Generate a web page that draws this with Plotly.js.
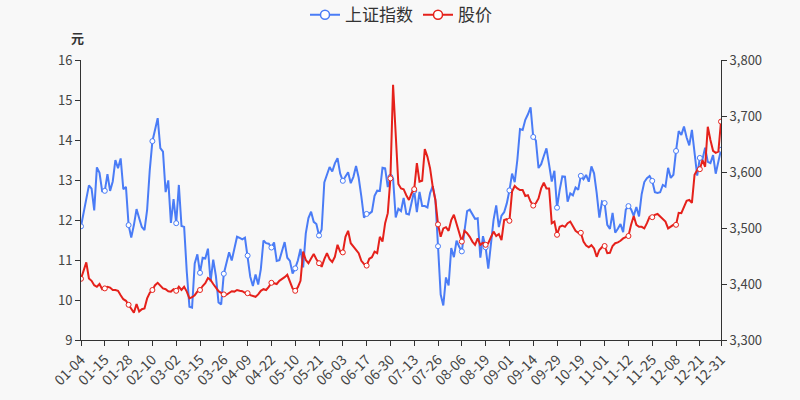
<!DOCTYPE html>
<html>
<head>
<meta charset="utf-8">
<script src="https://cdn.plot.ly/plotly-3.0.1.min.js"></script>
<style>html,body{margin:0;padding:0;background:#f8f8f8;}#chart{width:800px;height:400px;}</style>
</head>
<body>
<div id="chart"></div>
<script>
const dates = [
"01-04","01-05","01-06","01-07","01-08","01-11","01-12","01-13","01-14","01-15","01-18","01-19","01-20","01-21","01-22","01-25","01-26","01-27","01-28","01-29",
"02-01","02-02","02-03","02-04","02-05","02-08","02-09","02-10","02-18","02-19","02-22","02-23","02-24","02-25","02-26",
"03-01","03-02","03-03","03-04","03-05","03-08","03-09","03-10","03-11","03-12","03-15","03-16","03-17","03-18","03-19","03-22","03-23","03-24","03-25","03-26","03-29","03-30","03-31",
"04-01","04-02","04-06","04-07","04-08","04-09","04-12","04-13","04-14","04-15","04-16","04-19","04-20","04-21","04-22","04-23","04-26","04-27","04-28","04-29","04-30",
"05-06","05-07","05-10","05-11","05-12","05-13","05-14","05-17","05-18","05-19","05-20","05-21","05-24","05-25","05-26","05-27","05-28","05-31",
"06-01","06-02","06-03","06-04","06-07","06-08","06-09","06-10","06-11","06-15","06-16","06-17","06-18","06-21","06-22","06-23","06-24","06-25","06-28","06-29","06-30",
"07-01","07-02","07-05","07-06","07-07","07-08","07-09","07-12","07-13","07-14","07-15","07-16","07-19","07-20","07-21","07-22","07-23","07-26","07-27","07-28","07-29","07-30",
"08-02","08-03","08-04","08-05","08-06","08-09","08-10","08-11","08-12","08-13","08-16","08-17","08-18","08-19","08-20","08-23","08-24","08-25","08-26","08-27","08-30","08-31",
"09-01","09-02","09-03","09-06","09-07","09-08","09-09","09-10","09-13","09-14","09-15","09-16","09-17","09-22","09-23","09-24","09-27","09-28","09-29","09-30",
"10-08","10-11","10-12","10-13","10-14","10-15","10-18","10-19","10-20","10-21","10-22","10-25","10-26","10-27","10-28","10-29",
"11-01","11-02","11-03","11-04","11-05","11-08","11-09","11-10","11-11","11-12","11-15","11-16","11-17","11-18","11-19","11-22","11-23","11-24","11-25","11-26","11-29","11-30",
"12-01","12-02","12-03","12-06","12-07","12-08","12-09","12-10","12-13","12-14","12-15","12-16","12-17","12-20","12-21","12-22","12-23","12-24","12-27","12-28","12-29","12-30","12-31"
];

const indexValues = [
3502.96,3528.68,3550.88,3576.20,3570.11,3531.50,3608.34,3598.65,3565.90,3566.38,3596.22,3566.27,3583.09,3621.26,3606.75,3624.24,3569.43,3573.34,3505.18,3483.07,
3505.28,3533.68,3517.31,3501.86,3496.33,3532.44,3603.49,3655.09,3675.36,3696.17,3642.44,3636.36,3564.08,3585.05,3509.08,
3551.40,3508.59,3576.90,3503.49,3501.99,3421.41,3359.29,3357.74,3436.83,3453.08,3419.95,3446.73,3445.55,3463.07,3404.66,3443.44,3414.62,3367.06,3363.59,3418.33,3435.31,3456.68,3441.91,
3466.33,3484.39,3482.48,3479.63,3482.56,3450.68,3412.95,3396.47,3416.90,3398.99,3426.62,3477.55,3472.94,3472.04,3465.11,3474.17,3441.17,3442.61,3457.07,3474.90,3446.86,
3441.28,3418.87,3427.99,3441.85,3462.75,3429.54,3490.38,3517.62,3529.01,3510.96,3506.94,3486.56,3497.28,3581.34,3593.36,3608.85,3600.78,3615.48,
3624.71,3597.14,3584.22,3591.84,3599.54,3580.11,3591.40,3610.86,3589.75,3556.56,3518.33,3525.10,3525.60,3529.18,3557.41,3566.65,3566.22,3607.56,3606.37,3573.18,3591.20,
3588.78,3518.76,3534.32,3530.26,3553.72,3525.50,3524.09,3547.84,3566.36,3528.50,3564.59,3539.30,3539.12,3536.79,3562.32,3574.73,3550.40,3467.44,3381.18,3361.59,3411.72,3397.36,
3464.29,3447.99,3477.22,3466.56,3458.23,3494.63,3529.93,3532.62,3524.74,3516.30,3517.34,3446.98,3485.29,3465.55,3427.33,3477.13,3514.47,3540.38,3501.66,3522.16,3528.15,3543.94,
3567.10,3597.04,3581.73,3621.86,3676.59,3675.19,3693.13,3703.11,3715.37,3662.60,3656.22,3607.09,3613.97,3628.49,3642.22,3613.07,3582.83,3602.22,3536.29,3568.17,
3592.17,3591.71,3546.94,3561.76,3558.28,3572.37,3568.14,3593.15,3587.00,3594.78,3582.60,3609.86,3597.64,3562.31,3518.42,3547.34,
3544.48,3505.63,3498.54,3526.87,3491.57,3498.63,3507.00,3492.46,3532.79,3539.10,3533.30,3521.79,3537.37,3520.71,3560.37,3582.08,3589.09,3592.70,3584.18,3564.09,3562.70,3563.89,
3576.89,3573.84,3607.43,3589.31,3595.09,3637.57,3673.04,3666.35,3681.08,3661.53,3647.63,3675.02,3632.36,3593.60,3625.13,3622.62,3643.34,3618.05,3615.97,3630.11,3597.00,3619.19,3639.78
];

const priceValues = [
10.53,10.71,10.94,10.54,10.48,10.37,10.33,10.40,10.27,10.29,
10.33,10.31,10.25,10.25,10.23,10.12,10.02,9.98,9.88,9.77,
9.68,9.90,9.71,9.77,9.79,10.04,10.18,10.25,10.37,10.43,
10.35,10.29,10.27,10.22,10.21,10.27,10.23,10.33,10.25,10.33,
10.21,10.04,10.07,10.12,10.21,10.25,10.35,10.42,10.55,10.50,
10.40,10.30,10.22,10.18,10.14,10.13,10.17,10.22,10.21,10.25,
10.23,10.22,10.18,10.17,10.12,10.09,10.08,10.14,10.23,10.27,
10.25,10.33,10.43,10.42,10.40,10.48,10.52,10.57,10.63,10.48,
10.29,10.23,10.32,10.48,11.21,11.00,10.92,11.04,11.15,11.02,
10.92,10.83,11.02,11.17,11.02,10.95,11.08,11.38,11.21,11.19,
11.58,11.73,11.42,11.33,11.27,11.17,10.98,10.90,10.86,11.03,
11.07,11.21,11.17,11.58,11.46,11.92,12.17,13.04,15.38,14.10,
12.90,12.79,12.77,12.62,12.50,12.67,12.77,13.42,12.96,12.98,
13.77,13.58,13.29,12.83,12.50,11.89,11.58,11.79,11.82,11.73,
12.00,12.13,11.92,11.71,11.46,11.73,11.67,11.58,11.46,11.38,
11.54,11.38,11.43,11.38,11.42,11.57,11.71,11.60,11.65,11.50,
12.00,12.02,11.98,12.71,12.85,12.79,12.75,12.75,12.60,12.62,
12.46,12.36,12.42,12.54,12.79,12.93,12.79,12.79,11.92,11.96,
11.63,11.83,11.86,11.83,11.92,11.96,11.83,11.73,11.68,11.68,
11.46,11.36,11.32,11.37,11.29,11.08,11.25,11.32,11.35,11.17,
11.18,11.35,11.42,11.44,11.48,11.54,11.57,11.60,11.88,12.10,
11.88,11.83,11.83,11.79,11.92,12.08,12.07,12.13,12.15,12.08,
12.02,11.96,11.79,11.83,11.88,11.88,12.18,12.17,12.33,12.48,
12.50,12.43,13.13,13.25,13.27,13.50,13.33,14.33,14.00,13.73,
13.68,13.71,14.46
];

const tickLabels = ["01-04","01-15","01-28","02-10","03-02","03-15","03-26","04-09","04-22","05-10","05-21","06-03","06-17","06-30","07-13","07-26","08-06","08-19","09-01","09-14","09-29","10-19","11-01","11-12","11-25","12-08","12-21","12-31"];

const seriesNames = ["上证指数", "股价"];
const unitLabel = "元";

const BLUE = "#4a7cf6";
const RED = "#e5211b";
const BG = "#f8f8f8";

// hollow symbols only on labelled dates
const markerSizes = dates.map(d => tickLabels.indexOf(d) >= 0 ? 5 : 0);

function mainTrace(y, color, axis) {
  return {
    x: dates, y: y, yaxis: axis, type: "scatter", mode: "lines+markers",
    line: {color: color, width: 2},
    marker: {size: markerSizes, color: "#ffffff", opacity: 1, line: {color: color, width: 1}},
    showlegend: false, hoverinfo: "x+y"
  };
}
function legendTrace(name, color, axis) {
  return {
    x: [dates[0]], y: [null], yaxis: axis, type: "scatter", mode: "lines+markers", name: name,
    line: {color: color, width: 2},
    marker: {size: 9, color: "#ffffff", line: {color: color, width: 1.5}},
    showlegend: true, hoverinfo: "skip"
  };
}

const data = [
  mainTrace(indexValues, BLUE, "y"),
  mainTrace(priceValues, RED, "y2"),
  legendTrace(seriesNames[0], BLUE, "y"),
  legendTrace(seriesNames[1], RED, "y2")
];

const fontFam = "'Noto Sans CJK SC', 'Noto Sans', sans-serif";

const layout = {
  width: 800, height: 400,
  paper_bgcolor: BG, plot_bgcolor: BG,
  margin: {l: 81, r: 79, t: 60, b: 60, autoexpand: false},
  font: {family: fontFam, color: "#333", size: 13},
  showlegend: true,
  legend: {orientation: "h", x: 0.5, xanchor: "center", y: 1.16, yanchor: "middle",
           font: {size: 17, color: "#333"}, bgcolor: "rgba(0,0,0,0)", itemwidth: 30,
           traceorder: "normal", borderwidth: 0, tracegroupgap: 0},
  xaxis: {
    type: "category", range: [0, dates.length - 1],
    showline: true, linecolor: "#333", linewidth: 1,
    ticks: "outside", ticklen: 5, tickcolor: "#333",
    tickvals: tickLabels, ticktext: tickLabels, tickangle: -45,
    tickfont: {size: 14, color: "#444"},
    showgrid: false, zeroline: false, fixedrange: true, automargin: false
  },
  yaxis: {
    side: "right", range: [3300, 3800], tick0: 3300, dtick: 100, tickformat: ",d",
    showline: true, linecolor: "#333", linewidth: 1,
    ticks: "outside", ticklen: 5, tickcolor: "#333",
    tickfont: {size: 13, color: "#444"},
    showgrid: false, zeroline: false, automargin: false
  },
  yaxis2: {
    overlaying: "y", side: "left", range: [9, 16], tick0: 9, dtick: 1,
    showline: true, linecolor: "#333", linewidth: 1,
    ticks: "outside", ticklen: 5, tickcolor: "#333",
    tickfont: {size: 13, color: "#444"},
    showgrid: false, zeroline: false, automargin: false
  },
  annotations: [{
    text: "<b>" + unitLabel + "</b>", xref: "paper", yref: "paper",
    x: -0.005, y: 1.082, xanchor: "center", yanchor: "middle", showarrow: false,
    font: {size: 13, color: "#333"}
  }]
};

Plotly.newPlot("chart", data, layout, {displayModeBar: false, staticPlot: true});
</script>
</body>
</html>
